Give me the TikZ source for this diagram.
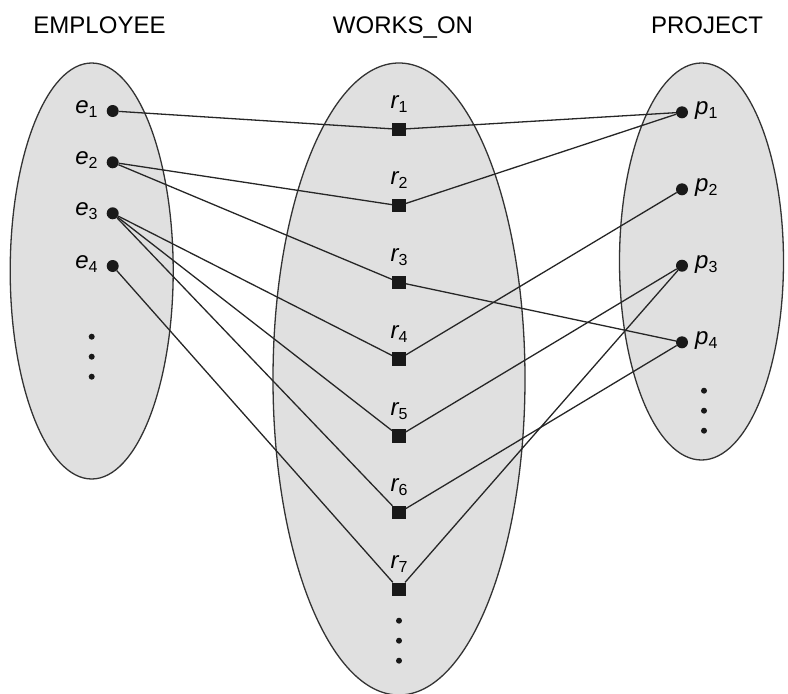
\documentclass[tikz,border=0pt]{standalone}
\usepackage{fontspec}
\setmainfont{Liberation Sans}
\usetikzlibrary{positioning}

\tikzset{
  set/.style={draw=black!80, line width=1.3pt, fill=black!12},
  bigdot/.style={circle, fill=black!90, inner sep=0pt, minimum size=12pt},
  relbox/.style={rectangle, fill=black!90, inner sep=0pt, minimum size=13.5pt},
  smalldot/.style={circle, fill=black!90, inner sep=0pt, minimum size=6pt},
  link/.style={draw=black!85, line width=1.3pt},
  title/.style={font=\fontsize{24}{28}\selectfont},
  elem/.style={font=\fontsize{24}{28}\selectfont, inner sep=0pt},
}
\newcommand{\elm}[2]{{\itshape #1}\raisebox{-4pt}{\fontsize{16}{18}\selectfont #2}}

\begin{document}
\begin{tikzpicture}[x=1pt, y=-1pt]
    \useasboundingbox (0,0) rectangle (788,694);

    % the three sets
    \draw[set] (91.7,271) ellipse [x radius=81.5, y radius=208];
    \draw[set] (399,379) ellipse [x radius=126, y radius=316];
    \draw[set] (701.5,261.5) ellipse [x radius=82, y radius=198.5];

    \node[title, anchor=base] (tEmp) at (99.5,33) {EMPLOYEE};
    \node[title, anchor=base] (tWorks) at (403,33) {WORKS\_ON};
    \node[title, anchor=base] (tProj) at (707,33) {PROJECT};

    % EMPLOYEE
    \foreach \i/\y in {1/111, 2/162.3, 3/213.3, 4/266}
    {
        \node[bigdot] (e\i) at (112.7,\y) {};
        \node[elem, anchor=mid east] (le\i) at ([xshift=-15pt]e\i.center) {\elm{e}{\i}};
    };

    % WORKS_ON
    \foreach \i/\y in {1/129.3, 2/205.7, 3/282.3, 4/359, 5/436, 6/512.7, 7/589.3}
    {
        \node[relbox] (r\i) at (399,\y) {};
        \node[elem, anchor=base] (lr\i) at ([yshift=21pt]r\i.center) {\elm{r}{\i}};
    };

    % PROJECT
    \foreach \i/\y in {1/112.3, 2/189.3, 3/265.7, 4/342.3}
    {
        \node[bigdot] (p\i) at (682,\y) {};
        \node[elem, anchor=mid west] (lp\i) at ([xshift=13pt]p\i.center) {\elm{p}{\i}};
    };

    % more elements
    \foreach \x/\y/\s in {91.7/336.7/e, 399/620.7/r, 704/390.7/p}
    {
        \foreach \k in {0,1,2}
            \node[smalldot] (d\s\k) at (\x,\y+20*\k) {};
    };

    % relationship instances
    \foreach \a/\b in {e1/r1, r1/p1, e2/r2, r2/p1, e2/r3, r3/p4,
                       e3/r4, r4/p2, e3/r5, r5/p3, e3/r6, r6/p4,
                       e4/r7, r7/p3}
        \draw[link] (\a) -- (\b);
\end{tikzpicture}
\end{document}
